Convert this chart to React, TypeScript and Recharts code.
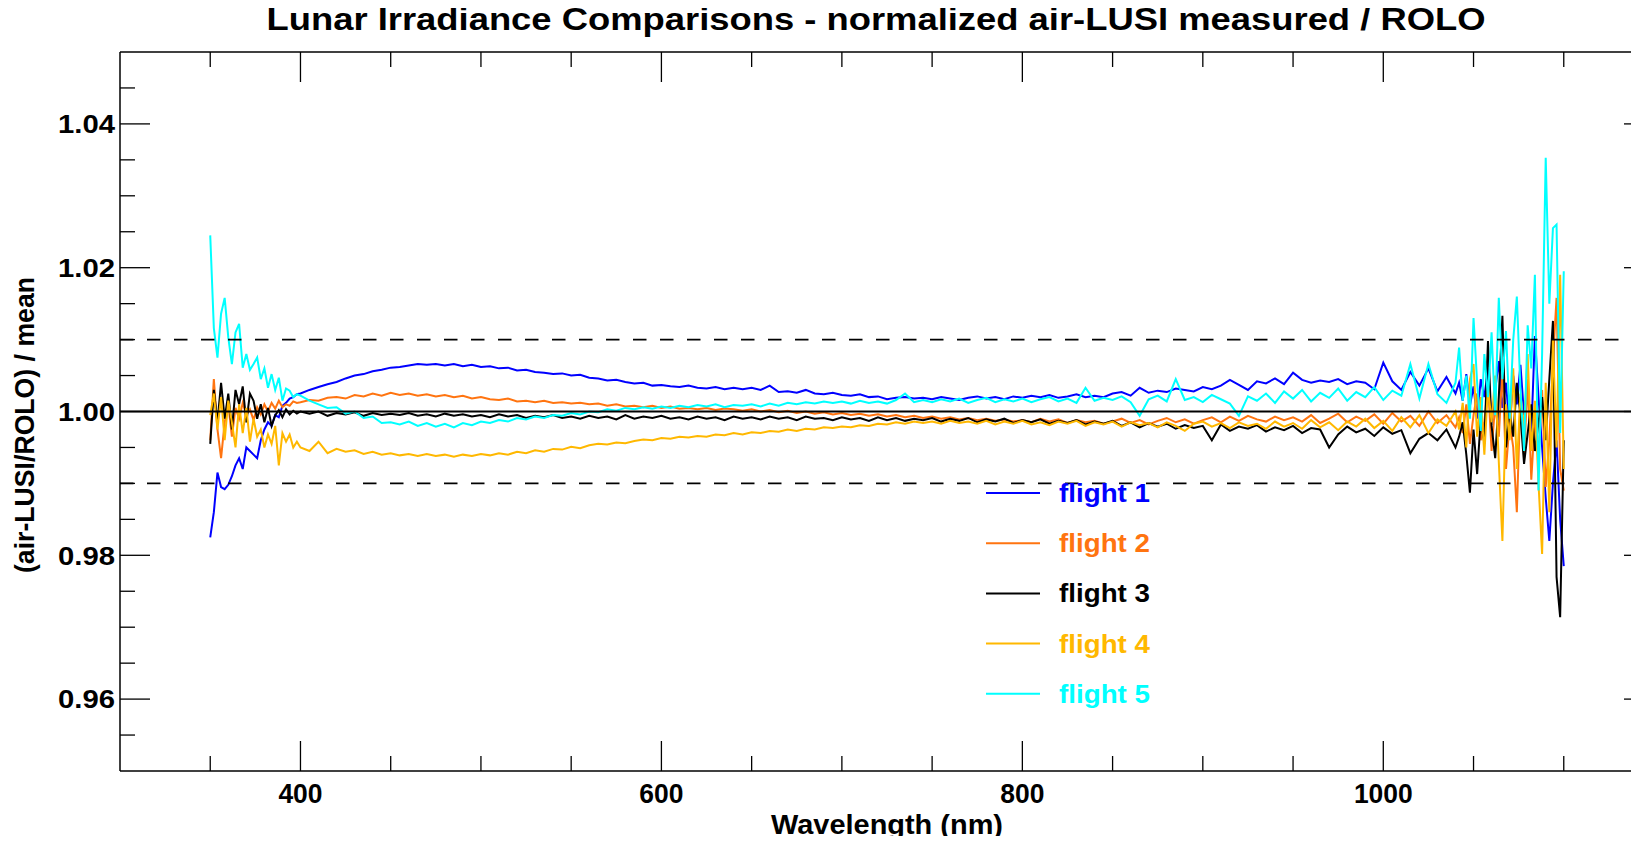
import { Legend, Line, LineChart, ReferenceLine, XAxis, YAxis } from "recharts";

// sample wavelengths (nm)
const WAVELENGTH = [
  350, 352, 354, 356, 358, 360, 362, 364, 366, 368, 370, 372, 374, 376, 378, 380, 382, 384, 386, 388, 390, 392, 394, 396, 398,
  400, 405, 410, 415, 420, 425, 430, 435, 440, 445,
  450, 455, 460, 465, 470, 475, 480, 485, 490, 495,
  500, 505, 510, 515, 520, 525, 530, 535, 540, 545,
  550, 555, 560, 565, 570, 575, 580, 585, 590, 595,
  600, 605, 610, 615, 620, 625, 630, 635, 640, 645,
  650, 655, 660, 665, 670, 675, 680, 685, 690, 695,
  700, 705, 710, 715, 720, 725, 730, 735, 740, 745,
  750, 755, 760, 765, 770, 775, 780, 785, 790, 795,
  800, 805, 810, 815, 820, 825, 830, 835, 840, 845,
  850, 855, 860, 865, 870, 875, 880, 885, 890, 895,
  900, 905, 910, 915, 920, 925, 930, 935, 940, 945,
  950, 955, 960, 965, 970, 975, 980, 985, 990, 995,
  1000, 1005, 1010, 1015, 1020, 1025, 1030, 1035, 1040,
  1042, 1044, 1046, 1048, 1050, 1052, 1054, 1056, 1058, 1060,
  1062, 1064, 1066, 1068, 1070, 1072, 1074, 1076, 1078, 1080,
  1082, 1084, 1086, 1088, 1090, 1092, 1094, 1096, 1098, 1100,
];

const FLIGHT_1 = [
  0.9825, 0.986, 0.9915, 0.9895, 0.9892,
  0.9898, 0.991, 0.9925, 0.9935, 0.992,
  0.995, 0.9945, 0.994, 0.9935, 0.996,
  0.9975, 0.9985, 0.998, 0.9995, 0.9992,
  1.0008, 1.0012, 1.0018, 1.002, 1.0024,
  1.0025, 1.003, 1.0034, 1.0038, 1.0041, 1.0046, 1.005, 1.0052, 1.0056, 1.0058,
  1.0061, 1.0062, 1.0064, 1.0066, 1.0065, 1.0066, 1.0064, 1.0066, 1.0063, 1.0065,
  1.0062, 1.0063, 1.006, 1.0061, 1.0057, 1.0058, 1.0055, 1.0054, 1.0052, 1.0053,
  1.005, 1.0051, 1.0047, 1.0046, 1.0043, 1.0044, 1.0041, 1.0039, 1.004, 1.0036,
  1.0037, 1.0035, 1.0034, 1.0036, 1.0033, 1.0032, 1.0034, 1.0031, 1.0033, 1.0031,
  1.0033, 1.003, 1.0036, 1.0027, 1.0028, 1.0026, 1.003, 1.0025, 1.0024, 1.0026,
  1.0023, 1.0022, 1.0024, 1.002, 1.0021, 1.0017, 1.0019, 1.002, 1.0018, 1.0019,
  1.0017, 1.002, 1.0018, 1.0016, 1.0019, 1.0021, 1.0018, 1.002, 1.0017, 1.0021,
  1.0019, 1.0022, 1.002, 1.0023, 1.0019, 1.0021, 1.0024, 1.002, 1.0022, 1.002,
  1.0025, 1.0027, 1.0022, 1.0033, 1.0026, 1.0029, 1.0027, 1.0032, 1.003, 1.0028,
  1.0034, 1.0031, 1.0036, 1.0044, 1.0037, 1.003, 1.0042, 1.0039, 1.0046, 1.0038,
  1.0054, 1.0044, 1.004, 1.0043, 1.0041, 1.0045, 1.0038, 1.0042, 1.004, 1.0031,
  1.0068, 1.0042, 1.003, 1.0055, 1.0036, 1.006, 1.0028, 1.0048, 1.0025,
  1.004, 1.0015, 1.0052, 1.0008, 1.0035, 0.999, 1.0045, 1.002, 1.006, 0.9985,
  1.003, 1.007, 1.0005, 1.004, 0.9975, 1.005, 1.001, 1.0065, 0.9995, 1.0035,
  0.997, 1.0105, 1.002, 0.995, 0.988, 0.982, 0.99, 0.996, 0.985, 0.9785,
];

const FLIGHT_2 = [
  0.996, 1.0045, 0.9975, 0.9935, 0.9985,
  1.001, 0.9965, 1.0005, 0.999, 1.0012,
  0.9995, 1.0003, 0.9988, 1.0006, 0.9996,
  1.001, 1.0, 1.0012, 1.0004, 1.0015,
  1.0006, 1.001, 1.0008, 1.0014, 1.0012,
  1.0013, 1.0016, 1.0015, 1.0019, 1.002, 1.0018, 1.0023, 1.0021, 1.0025, 1.0022,
  1.0026, 1.0023, 1.0025, 1.0022, 1.0024, 1.0021, 1.0023, 1.002, 1.0022, 1.0018,
  1.002, 1.0017, 1.0016, 1.0018, 1.0014, 1.0015, 1.0013, 1.0015, 1.0012, 1.0013,
  1.0011, 1.0012, 1.001, 1.0011, 1.0008, 1.001, 1.0007, 1.0008, 1.0006, 1.0008,
  1.0005, 1.0007, 1.0004, 1.0005, 1.0003, 1.0005, 1.0002, 1.0004, 1.0003, 1.0001,
  1.0003, 1.0, 1.0002, 0.9999, 1.0001, 0.9998, 1.0, 0.9997, 0.9999, 0.9996,
  0.9998, 0.9995, 0.9997, 0.9994, 0.9996, 0.9993, 0.9995, 0.9992, 0.9994, 0.9991,
  0.9993, 0.999, 0.9992, 0.9989, 0.9991, 0.9988, 0.999, 0.9987, 0.9989, 0.9986,
  0.9988, 0.9985, 0.999, 0.9986, 0.9989, 0.9984, 0.9988, 0.9985, 0.9987, 0.9983,
  0.9986, 0.999, 0.9984, 0.9988, 0.9982, 0.9987, 0.9991, 0.9985, 0.9989, 0.9983,
  0.9988, 0.9992, 0.9985, 0.9993, 0.9987, 0.9994, 0.9989, 0.9986, 0.9993, 0.9988,
  0.9992, 0.9986, 0.9995, 0.9984, 0.999, 0.9997, 0.9985, 0.9993, 0.9987, 0.9996,
  0.9983, 0.9998, 0.9986, 0.9994, 0.998, 1.0, 0.9984, 0.9995, 0.9978,
  0.9992, 0.997, 1.001, 0.9955, 0.9995, 1.0025, 0.996, 0.9985, 1.004, 0.9945,
  1.001, 0.9965, 1.006, 0.992, 0.9985, 0.995, 0.986, 1.002, 0.9935, 1.0045,
  0.9905, 0.999, 0.994, 1.003, 0.9895, 0.996, 1.007, 1.0158, 0.992, 0.989,
];

const FLIGHT_3 = [
  0.9955, 1.003, 0.9985, 1.004, 0.999,
  1.0025, 0.9975, 1.003, 1.001, 1.0035,
  0.9985, 1.0025, 1.0015, 0.999, 1.001,
  0.9985, 1.0005, 0.998, 0.9995, 1.0002,
  0.9992, 1.0003, 0.9996, 1.0001, 0.9997,
  1.0, 0.9997, 1.0, 0.9994, 0.9998, 0.9996, 0.9999, 0.9994, 0.9998, 0.9995,
  0.9997, 0.9995, 0.9998, 0.9994, 0.9996, 0.9993, 0.9997, 0.9994, 0.9996, 0.9993,
  0.9995, 0.9992, 0.9996, 0.9993, 0.9995, 0.9991, 0.9994, 0.9992, 0.9995, 0.9991,
  0.9993, 0.999, 0.9994, 0.9991, 0.9993, 0.9989, 0.9995, 0.999, 0.9993, 0.9991,
  0.9994, 0.999, 0.9992, 0.9989, 0.9993, 0.999, 0.9992, 0.9988, 0.9993, 0.999,
  0.9992, 0.9989, 0.9993, 0.999, 0.9992, 0.9988, 0.9993, 0.999, 0.9991, 0.9988,
  0.9992, 0.9989, 0.9991, 0.9987, 0.9992, 0.9988, 0.9991, 0.9987, 0.999, 0.9988,
  0.9991, 0.9986, 0.999, 0.9987, 0.9991, 0.9985, 0.9989, 0.9986, 0.999, 0.9984,
  0.9988, 0.9985, 0.9989, 0.9983, 0.9987, 0.9984, 0.9988, 0.9982, 0.9986, 0.9983,
  0.9987, 0.998, 0.9985, 0.9978, 0.9984, 0.9979, 0.9983, 0.9976, 0.9981, 0.9977,
  0.998, 0.996, 0.9982, 0.9973, 0.9979, 0.9976, 0.9981, 0.9972, 0.9978, 0.9974,
  0.998, 0.997, 0.9977, 0.9975, 0.995, 0.9968, 0.9979, 0.9971, 0.9976, 0.9966,
  0.9978, 0.9969, 0.9974, 0.9942, 0.9962, 0.997, 0.996, 0.9975, 0.995,
  0.9965, 0.9985, 0.994, 0.9887, 0.9975, 0.9913, 0.999, 0.9955, 1.0098, 0.998,
  0.9935, 1.002, 1.0133, 0.995, 1.0, 0.9965, 1.004, 0.9995, 0.9927, 0.997,
  1.001, 0.9945, 0.9985, 1.002, 0.996, 1.0045, 1.0126, 0.977, 0.9714, 0.996,
];

const FLIGHT_4 = [
  0.9995, 1.0025, 0.9975, 1.002, 0.996,
  1.0015, 0.9985, 0.995, 1.001, 0.997,
  1.0005, 0.9958, 0.999, 0.9965, 0.9975,
  0.995, 0.9968, 0.9955, 0.998, 0.9925,
  0.997, 0.9958, 0.9968, 0.995, 0.9958,
  0.995, 0.9945, 0.9958, 0.9942, 0.9948, 0.9944, 0.9946, 0.9941, 0.9944, 0.994,
  0.9942, 0.9939, 0.9941, 0.9938, 0.9941, 0.9938, 0.994, 0.9937, 0.994, 0.9938,
  0.9941, 0.9939, 0.9942, 0.994, 0.9944, 0.9942, 0.9946, 0.9944, 0.9948, 0.9947,
  0.9951, 0.9949, 0.9953, 0.9955, 0.9954, 0.9957, 0.9956, 0.9959, 0.9961, 0.996,
  0.9963, 0.9962, 0.9965, 0.9964, 0.9966, 0.9965, 0.9968, 0.9967, 0.997, 0.9968,
  0.9971, 0.997, 0.9973, 0.9972, 0.9975, 0.9973, 0.9976, 0.9975, 0.9978, 0.9977,
  0.9979, 0.9978, 0.9981, 0.998, 0.9983, 0.9982, 0.9985, 0.9983, 0.9986, 0.9984,
  0.9986, 0.9983, 0.9987, 0.9984, 0.9986, 0.9983, 0.9987, 0.9982, 0.9986, 0.9983,
  0.9987, 0.9982, 0.9985, 0.9981, 0.9986, 0.9983, 0.9987, 0.998, 0.9985, 0.9982,
  0.9986, 0.9979, 0.9985, 0.9981, 0.9984, 0.9978, 0.9985, 0.998, 0.9973, 0.9983,
  0.9986, 0.9979, 0.9984, 0.9977, 0.9985, 0.998, 0.9983, 0.9976, 0.9986, 0.9979,
  0.9984, 0.9976, 0.9988, 0.9978, 0.9985, 0.9974, 0.9986, 0.9979, 0.999, 0.9977,
  0.9987, 0.9973, 0.9992, 0.9978, 0.9995, 0.997, 0.9989, 0.998, 1.0,
  0.9975, 1.0012, 0.995, 1.0045, 1.0066, 0.9965, 1.002, 0.994, 1.0035, 0.9985,
  1.005, 0.993, 0.982, 1.001, 0.996, 1.006, 0.992, 1.0025, 0.9975, 1.008,
  0.9945, 1.0015, 0.99, 0.9802, 1.004, 0.986, 1.01, 0.995, 1.019, 0.992,
];

const FLIGHT_5 = [
  1.0245, 1.0116, 1.0075, 1.0136, 1.0158,
  1.0103, 1.0066, 1.011, 1.0122, 1.0061,
  1.008, 1.0058, 1.0066, 1.0075, 1.0045,
  1.006, 1.0033, 1.0052, 1.003, 1.0047,
  1.0015, 1.0032, 1.0029, 1.002, 1.0024,
  1.0022, 1.0015, 1.001, 1.0005, 1.0006, 0.9997, 1.0, 0.9991, 0.9993, 0.9984,
  0.9985, 0.9982, 0.9986, 0.998, 0.9984, 0.9979, 0.9983, 0.9978, 0.9984, 0.9981,
  0.9986, 0.9984, 0.9988, 0.9986, 0.9991, 0.9989, 0.9993, 0.9991, 0.9995, 0.9994,
  0.9998, 0.9996, 1.0, 0.9999, 1.0003, 1.0001, 1.0005, 1.0003, 1.0006, 1.0004,
  1.0007, 1.0005, 1.0008, 1.0006, 1.0009, 1.0007, 1.001, 1.0006, 1.0009, 1.0008,
  1.001, 1.0007, 1.0011, 1.0008, 1.0012, 1.001, 1.0013, 1.0011, 1.0014, 1.0012,
  1.0014, 1.0011, 1.0015, 1.0012, 1.0014, 1.0011, 1.0016, 1.0025, 1.0013, 1.0016,
  1.0013, 1.0017, 1.0014, 1.0018, 1.0012, 1.0016, 1.0019, 1.0013, 1.0017, 1.0014,
  1.0018, 1.0013, 1.0017, 1.002, 1.0014, 1.0018, 1.0012, 1.0033, 1.0015, 1.0019,
  1.0016, 1.0021, 1.0013, 0.9994, 1.0017, 1.0022, 1.0014, 1.0045, 1.0016, 1.002,
  1.0013, 1.0023, 1.0017, 1.0011, 0.9994, 1.0021, 1.0015, 1.0025, 1.0012, 1.0028,
  1.0018, 1.003, 1.0014, 1.0026, 1.0019, 1.0032, 1.0015, 1.0027, 1.002, 1.0034,
  1.0016, 1.0029, 1.0022, 1.0066, 1.0018, 1.0066, 1.0024, 1.0012, 1.004,
  1.0089, 1.0015, 1.005, 0.999, 1.013, 1.004, 0.9973, 1.008, 1.002, 1.011,
  0.9995, 1.0158, 1.0045, 1.0112, 0.999, 1.01, 1.016, 1.003, 0.9945, 1.012,
  1.006, 1.019, 0.989, 1.008, 1.0353, 1.015, 1.0255, 1.026, 0.997, 1.0195,
];

const FLIGHTS = [
  { key: "f1", name: "flight 1", color: "#0000ff", values: FLIGHT_1 },
  { key: "f2", name: "flight 2", color: "#ff7410", values: FLIGHT_2 },
  { key: "f3", name: "flight 3", color: "#000000", values: FLIGHT_3 },
  { key: "f4", name: "flight 4", color: "#ffb800", values: FLIGHT_4 },
  { key: "f5", name: "flight 5", color: "#00ffff", values: FLIGHT_5 },
];

const X_TICKS = [350, 400, 450, 500, 550, 600, 650, 700, 750, 800, 850, 900, 950, 1000, 1050, 1100];
const X_LABELED = [400, 600, 800, 1000];
const Y_TICKS = [
  0.955, 0.96, 0.965, 0.97, 0.975, 0.98, 0.985, 0.99, 0.995, 1.0,
  1.005, 1.01, 1.015, 1.02, 1.025, 1.03, 1.035, 1.04, 1.045,
];
const Y_LABELED = [0.96, 0.98, 1.0, 1.02, 1.04];

const rows = WAVELENGTH.map((w, i) => {
  const row: Record<string, number> = { w };
  FLIGHTS.forEach((f) => {
    row[f.key] = f.values[i];
  });
  return row;
});

const FONT = "'Liberation Sans', Arial, Helvetica, sans-serif";
const MAJOR = 30;
const MINOR = 15;

const isYMajor = (v: number) => Y_LABELED.some((m) => Math.abs(m - v) < 1e-9);

function BottomTick(props: any) {
  const { x, y, payload } = props;
  const major = X_LABELED.includes(payload.value);
  return (
    <g>
      <line x1={x} y1={y} x2={x} y2={y - (major ? MAJOR : MINOR)} stroke="#000" strokeWidth={1.3} />
      {major && (
        <text
          x={x}
          y={y + 32}
          textAnchor="middle"
          fontFamily={FONT}
          fontWeight="bold"
          fontSize={28}
          fill="#000"
          textLength={String(payload.value).length * 14.7}
          lengthAdjust="spacingAndGlyphs"
        >
          {payload.value}
        </text>
      )}
    </g>
  );
}

function TopTick(props: any) {
  const { x, y, payload } = props;
  const major = X_LABELED.includes(payload.value);
  return <line x1={x} y1={y} x2={x} y2={y + (major ? MAJOR : MINOR)} stroke="#000" strokeWidth={1.3} />;
}

function LeftTick(props: any) {
  const { x, y, payload } = props;
  const major = isYMajor(payload.value);
  return (
    <g>
      <line x1={x} y1={y} x2={x + (major ? MAJOR : MINOR)} y2={y} stroke="#000" strokeWidth={1.3} />
      {major && (
        <text
          x={x - 5}
          y={y}
          dy="0.36em"
          textAnchor="end"
          fontFamily={FONT}
          fontWeight="bold"
          fontSize={26}
          fill="#000"
          textLength={57}
          lengthAdjust="spacingAndGlyphs"
        >
          {payload.value.toFixed(2)}
        </text>
      )}
    </g>
  );
}

function RightTick(props: any) {
  const { x, y, payload } = props;
  const major = isYMajor(payload.value);
  return <line x1={x} y1={y} x2={x - (major ? MAJOR : MINOR)} y2={y} stroke="#000" strokeWidth={1.3} />;
}

function FlightLegend({ payload }: any) {
  return (
    <svg width={190} height={260} style={{ display: "block", overflow: "visible" }}>
      {(payload ?? []).map((p: any, i: number) => {
        const y = 30 + i * 50.2;
        return (
          <g key={p.value}>
            <line x1={0} x2={54} y1={y} y2={y} stroke={p.color} strokeWidth={2} />
            <text
              x={73}
              y={y + 9}
              fill={p.color}
              fontFamily={FONT}
              fontWeight="bold"
              fontSize={26}
              textLength={91}
              lengthAdjust="spacingAndGlyphs"
            >
              {p.value}
            </text>
          </g>
        );
      })}
    </svg>
  );
}

const axisLine = { stroke: "#000", strokeWidth: 1.5 };

export default function App() {
  return (
    <div style={{ position: "relative", width: 1639, height: 844, margin: -8, overflow: "hidden", background: "#fff" }}>
      <LineChart
        width={1680}
        height={844}
        data={rows}
        margin={{ top: 51, right: 25, bottom: 72, left: 119 }}
      >
        <XAxis
          dataKey="w"
          type="number"
          domain={[300, 1150]}
          allowDataOverflow
          ticks={X_TICKS}
          interval={0}
          height={1}
          tickSize={0}
          tickMargin={0}
          axisLine={axisLine}
          tickLine={false}
          tick={<BottomTick />}
        />
        <XAxis
          xAxisId="top"
          orientation="top"
          dataKey="w"
          type="number"
          domain={[300, 1150]}
          allowDataOverflow
          ticks={X_TICKS}
          interval={0}
          height={1}
          tickSize={0}
          tickMargin={0}
          axisLine={axisLine}
          tickLine={false}
          tick={<TopTick />}
        />
        <YAxis
          type="number"
          domain={[0.95, 1.05]}
          allowDataOverflow
          ticks={Y_TICKS}
          interval={0}
          width={1}
          tickSize={0}
          tickMargin={0}
          axisLine={axisLine}
          tickLine={false}
          tick={<LeftTick />}
        />
        <YAxis
          yAxisId="right"
          orientation="right"
          type="number"
          domain={[0.95, 1.05]}
          allowDataOverflow
          ticks={Y_TICKS}
          interval={0}
          width={1}
          tickSize={0}
          tickMargin={0}
          axisLine={axisLine}
          tickLine={false}
          tick={<RightTick />}
        />
        {FLIGHTS.map((f) => (
          <Line
            key={f.key}
            dataKey={f.key}
            name={f.name}
            type="linear"
            stroke={f.color}
            strokeWidth={2}
            dot={false}
            activeDot={false}
            isAnimationActive={false}
          />
        ))}
        <ReferenceLine y={1.0} stroke="#000" strokeWidth={1.8} />
        <ReferenceLine y={1.01} stroke="#000" strokeWidth={1.8} strokeDasharray="13.5 13.5" />
        <ReferenceLine y={0.99} stroke="#000" strokeWidth={1.8} strokeDasharray="13.5 13.5" />
        <Legend
          layout="vertical"
          align="center"
          verticalAlign="middle"
          content={<FlightLegend />}
          wrapperStyle={{ position: "absolute", left: 986, top: 463, width: 190, height: 260 }}
        />
      </LineChart>
      <svg
        width={1639}
        height={844}
        style={{ position: "absolute", left: 0, top: 0, pointerEvents: "none" }}
      >
        <text
          x={266.5}
          y={30}
          fontFamily={FONT}
          fontWeight="bold"
          fontSize={31}
          fill="#000"
          textLength={1219}
          lengthAdjust="spacingAndGlyphs"
        >
          Lunar Irradiance Comparisons - normalized air-LUSI measured / ROLO
        </text>
        <text
          x={771}
          y={834}
          fontFamily={FONT}
          fontWeight="bold"
          fontSize={27}
          fill="#000"
          textLength={232}
          lengthAdjust="spacingAndGlyphs"
        >
          Wavelength (nm)
        </text>
        <text
          x={24}
          y={425}
          textAnchor="middle"
          dominantBaseline="central"
          transform="rotate(-90 24 425)"
          fontFamily={FONT}
          fontWeight="bold"
          fontSize={28}
          fill="#000"
          textLength={296}
          lengthAdjust="spacingAndGlyphs"
        >
          (air-LUSI/ROLO) / mean
        </text>
      </svg>
    </div>
  );
}
